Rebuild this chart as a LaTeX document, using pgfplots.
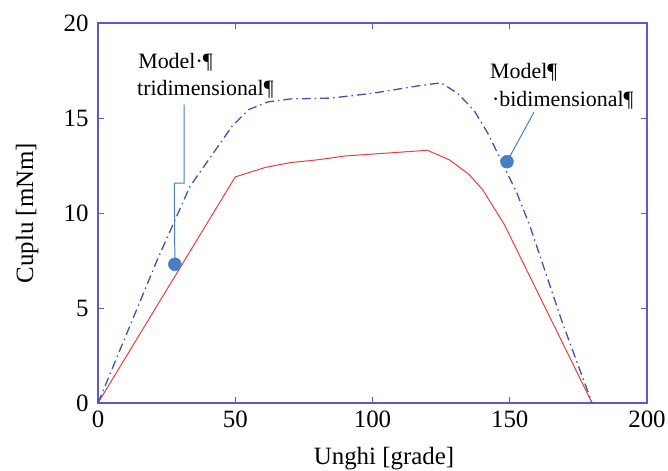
\documentclass[border=0pt]{standalone}
\usepackage{fontspec}
\setmainfont{Liberation Serif}
\usepackage{pgfplots}
\pgfplotsset{compat=1.18}
\usetikzlibrary{calc}
\definecolor{axblue}{HTML}{5A5AD0}
\definecolor{redl}{HTML}{EE3B3B}
\definecolor{bluel}{HTML}{4050B8}
\definecolor{callout}{HTML}{4A7EC4}
\newcommand\bigfont{\fontsize{25}{28}\selectfont}
\newcommand\annfont{\fontsize{22}{26}\selectfont}
\begin{document}
\begin{tikzpicture}
\begin{axis}[name=ax,
  scale only axis, width=549bp, height=380bp,
  xmin=0, xmax=200, ymin=0, ymax=20,
  xtick={0,50,100,150,200}, ytick={0,5,10,15,20},
  tick align=inside, major tick length=6bp,
  axis line style={axblue, line width=1.4pt},
  every tick/.style={axblue, line width=0.8pt},
  /pgf/number format/assume math mode=true,
  tick label style={font=\bigfont},
  xticklabel style={yshift=-4bp},
  yticklabel style={xshift=-6bp},
  xlabel={Unghi [grade]}, ylabel={Cuplu [mNm]},
  xlabel style={font=\bigfont, at={(axis description cs:0.521,-0.163)}, anchor=base},
  ylabel style={font=\bigfont, at={(axis description cs:-0.1184,0.5)}, anchor=base},
  clip=false]
\addplot[redl, line width=1pt] coordinates {
 (0,0) (50,11.9) (61,12.4) (70,12.65) (80,12.8) (90,13.0) (100,13.1) (110,13.2) (120,13.3) (128,12.8) (135,12.05) (140,11.25) (145,10.1) (148,9.4) (180,0)};
\addplot[bluel, line width=1.3pt, dash pattern=on 9pt off 4pt on 1.5pt off 4pt] coordinates {
 (0,0) (21.5,7.5) (33.5,11.4) (42,13.15) (49,14.6) (55,15.45) (62,15.85) (70,16.0) (85,16.05) (100,16.3) (117,16.7) (125,16.85) (131,16.3) (137,15.4) (142,14.2) (146.4,12.9) (152.6,11.05) (157.4,9.3) (169,4.3) (180,0)};
% callouts
\draw[callout, line width=1pt] (axis cs:31.4,15.7) -- (axis cs:31.4,11.57) -- (axis cs:27.8,11.57) -- (axis cs:28,7.4);
\draw[callout, line width=1pt] (axis cs:158.8,15.3) -- (axis cs:149,12.7);
\addplot[only marks, mark=*, mark size=6.5bp, callout] coordinates {(28,7.3) (149,12.7)};
\node[anchor=base west, font=\annfont, inner sep=0pt] at (axis cs:14.6,17.63) {Model·¶};
\node[anchor=base west, font=\annfont, inner sep=0pt] at (axis cs:14.2,16.16) {tridimensional¶};
\node[anchor=base west, font=\annfont, inner sep=0pt] at (axis cs:142.8,17.1) {Model¶};
\node[anchor=base west, font=\annfont, inner sep=0pt] at (axis cs:143.5,15.58) {·bidimensional¶};
\end{axis}
\pgfresetboundingbox
\path[use as bounding box] ($(ax.south west)+(-98bp,-68bp)$) rectangle ($(ax.north east)+(21bp,23bp)$);
\end{tikzpicture}
\end{document}
